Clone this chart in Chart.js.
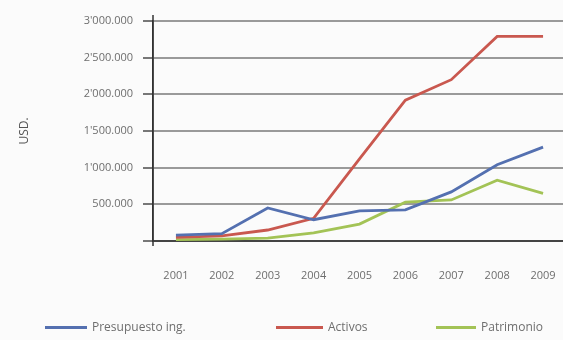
<!DOCTYPE html>
<html><head><meta charset="utf-8">
<script src="https://cdn.jsdelivr.net/npm/chart.js@4.4.1/dist/chart.umd.min.js"></script>
<style>
html,body{margin:0;padding:0;background:#fbfbfb;overflow:hidden;width:563px;height:340px;}
#wrap{position:absolute;left:0;top:0;width:566px;height:340px;}
.lg{position:absolute;font-family:"Open Sans",sans-serif;font-size:12px;color:#6e6e6e;white-space:nowrap;}
.lgl{position:absolute;height:3px;}
</style></head>
<body>
<div id="wrap"><canvas id="c" width="566" height="340"></canvas></div>
<div id="legend"></div>
<script>
const years = ['2001','2002','2003','2004','2005','2006','2007','2008','2009'];
const seriesNames = ['Presupuesto ing.','Activos','Patrimonio'];
const presupuesto = [80000, 100000, 450000, 290000, 410000, 425000, 670000, 1040000, 1280000];
const activos = [50000, 70000, 150000, 310000, 1120000, 1920000, 2200000, 2790000, 2790000];
const patrimonio = [20000, 25000, 40000, 110000, 230000, 530000, 560000, 830000, 650000];
const colors = ['#5470b0','#c9584f','#a3c356'];
const yTitle = 'USD.';

function fmt(v){
  if (v === 0) return '';
  const m = Math.floor(v/1e6);
  const th = Math.round((v % 1e6)/1000);
  const p = String(th).padStart(3,'0');
  return m > 0 ? (m + "'" + p + ".000") : (th + ".000");
}

const axisExtend = {
  id: 'axisExtend',
  afterDraw(ch){
    const a = ch.chartArea, c = ch.ctx;
    c.save();
    c.strokeStyle = '#333'; c.lineWidth = 1.5;
    c.beginPath(); c.moveTo(a.left, a.top - 6); c.lineTo(a.left, a.bottom + 5); c.stroke();
    c.restore();
  }
};

const values = [presupuesto, activos, patrimonio];
const chart = new Chart(document.getElementById('c'), {
  type: 'line',
  data: {
    labels: years,
    datasets: values.map((d,i)=>({label: seriesNames[i], data: d, borderColor: colors[i], backgroundColor: colors[i], borderWidth: 2.8, pointRadius: 0, tension: 0}))
  },
  options: {
    animation: false, responsive: false,
    layout: {padding: {top: 21, bottom: 52, left: 0, right: 0}},
    plugins: {legend: {display: false}, tooltip: {enabled: false}},
    scales: {
      x: {
        offset: true,
        grid: {display: false},
        border: {color: '#444', width: 1.5},
        ticks: {padding: 20, color: '#6e6e6e', font: {family: 'Open Sans', size: 11}, maxRotation: 0, autoSkip: false},
        afterFit: s => { s.height = 47; s.paddingLeft = 0; s.paddingRight = 0; }
      },
      y: {
        min: 0, max: 3000000,
        ticks: {stepSize: 500000, padding: 10, color: '#6e6e6e', font: {family: 'Open Sans', size: 11}, callback: v => fmt(v)},
        grid: {color: c => c.tick && c.tick.value === 0 ? '#444' : '#9a9a9a', lineWidth: 2, tickLength: 10, tickColor: '#777'},
        border: {color: '#333', width: 1.5},
        title: {display: true, text: yTitle, color: '#555', font: {family: 'Open Sans', size: 12}, padding: {top: 17}},
        afterFit: s => { s.width = 153; s.paddingTop = 0; s.paddingBottom = 0; }
      }
    }
  },
  plugins: [axisExtend]
});

const legendPos = [{line: 45, text: 92}, {line: 276, text: 328}, {line: 436, text: 481}];
const lg = document.getElementById('legend');
seriesNames.forEach((n,i)=>{
  const l = document.createElement('div');
  l.className = 'lgl';
  l.style.left = legendPos[i].line + 'px';
  l.style.width = (legendPos[i].text - legendPos[i].line - 5) + 'px';
  l.style.top = '326px';
  l.style.background = colors[i];
  lg.appendChild(l);
  const t = document.createElement('div');
  t.className = 'lg';
  t.style.left = legendPos[i].text + 'px';
  t.style.top = '318px';
  t.textContent = n;
  lg.appendChild(t);
});
</script>
</body></html>
